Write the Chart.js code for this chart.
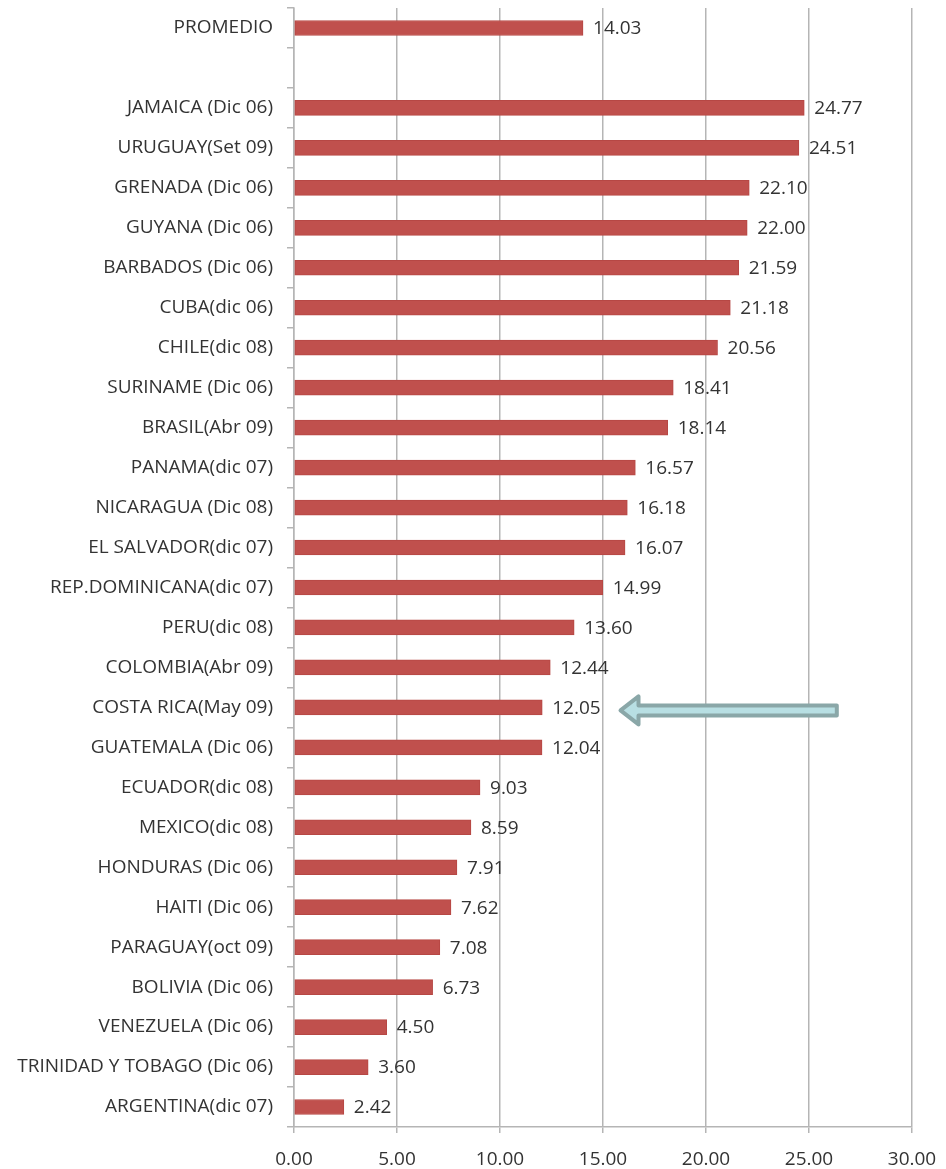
<!DOCTYPE html>
<html>
<head>
<meta charset="utf-8">
<script src="https://cdn.jsdelivr.net/npm/chart.js@4"></script>
<style>
  body { margin: 0; background: #fff; }
</style>
</head>
<body>
<canvas id="chart" width="946" height="1169"></canvas>
<script>
// categories top to bottom, one blank row under PROMEDIO
const countries = [
    'PROMEDIO', '',
    'JAMAICA (Dic 06)', 'URUGUAY(Set 09)', 'GRENADA (Dic 06)', 'GUYANA (Dic 06)',
    'BARBADOS (Dic 06)', 'CUBA(dic 06)', 'CHILE(dic 08)', 'SURINAME (Dic 06)',
    'BRASIL(Abr 09)', 'PANAMA(dic 07)', 'NICARAGUA (Dic 08)', 'EL SALVADOR(dic 07)',
    'REP.DOMINICANA(dic 07)', 'PERU(dic 08)', 'COLOMBIA(Abr 09)', 'COSTA RICA(May 09)',
    'GUATEMALA (Dic 06)', 'ECUADOR(dic 08)', 'MEXICO(dic 08)', 'HONDURAS (Dic 06)',
    'HAITI (Dic 06)', 'PARAGUAY(oct 09)', 'BOLIVIA (Dic 06)', 'VENEZUELA (Dic 06)',
    'TRINIDAD Y TOBAGO (Dic 06)', 'ARGENTINA(dic 07)'
];
const values = [
    14.03, null,
    24.77, 24.51, 22.10, 22.00,
    21.59, 21.18, 20.56, 18.41,
    18.14, 16.57, 16.18, 16.07,
    14.99, 13.60, 12.44, 12.05,
    12.04, 9.03, 8.59, 7.91,
    7.62, 7.08, 6.73, 4.50,
    3.60, 2.42
];
const xTicks = [0, 5, 10, 15, 20, 25, 30];

// arrow pointing at Costa Rica (in axis units)
const arrowRow = 'COSTA RICA(May 09)';
const arrowFrom = 26.35;
const arrowTo = 15.85;

const FONT = "'Open Sans', sans-serif";
const TEXT = '#333333';
const GRID = '#b5b5b5';

// value labels right of every bar
const barLabels = {
    id: 'barLabels',
    afterDatasetsDraw(chart) {
        const ctx = chart.ctx;
        const meta = chart.getDatasetMeta(0);
        ctx.save();
        ctx.font = '19px ' + FONT;
        ctx.fillStyle = TEXT;
        ctx.textBaseline = 'middle';
        meta.data.forEach((bar, i) => {
            if (values[i] === null) return;
            ctx.fillText(values[i].toFixed(2), bar.x + 10, bar.y + 1);
        });
        ctx.restore();
    }
};

const arrow = {
    id: 'arrow',
    afterDraw(chart) {
        const ctx = chart.ctx;
        const xs = chart.scales.x, ys = chart.scales.y;
        const y = ys.getPixelForValue(countries.indexOf(arrowRow)) + 3;
        const tip = xs.getPixelForValue(arrowTo);
        const tail = xs.getPixelForValue(arrowFrom);
        const head = 18, headH = 14, shaftH = 5;
        ctx.save();
        ctx.beginPath();
        ctx.moveTo(tip, y);
        ctx.lineTo(tip + head, y - headH);
        ctx.lineTo(tip + head, y - shaftH);
        ctx.lineTo(tail, y - shaftH);
        ctx.lineTo(tail, y + shaftH);
        ctx.lineTo(tip + head, y + shaftH);
        ctx.lineTo(tip + head, y + headH);
        ctx.closePath();
        ctx.fillStyle = '#b8dfe3';
        ctx.fill();
        ctx.lineJoin = 'round';
        ctx.lineWidth = 4;
        ctx.strokeStyle = '#8aa7a8';
        ctx.stroke();
        ctx.restore();
    }
};

// drop the automatic label padding so the plot box sits where the original does
function noPad(scale) {
    scale.paddingTop = 0;
    scale.paddingBottom = 0;
    scale.paddingLeft = 0;
    scale.paddingRight = 0;
}

new Chart(document.getElementById('chart'), {
    type: 'bar',
    data: {
        labels: countries,
        datasets: [{
            data: values,
            backgroundColor: '#c0504d',
            borderColor: '#b64744',
            borderWidth: 1,
            borderSkipped: false,
            barThickness: 15
        }]
    },
    options: {
        indexAxis: 'y',
        responsive: false,
        animation: false,
        layout: { padding: { top: 8, right: 34, left: 0, bottom: 0 } },
        plugins: { legend: { display: false }, tooltip: { enabled: false } },
        scales: {
            x: {
                min: 0,
                max: 30,
                afterBuildTicks(scale) { scale.ticks = xTicks.map(v => ({ value: v })); },
                afterFit(scale) { scale.height = 42; noPad(scale); },
                grid: { color: GRID, lineWidth: 1.5, tickLength: 6 },
                border: { color: GRID, width: 1.5 },
                ticks: {
                    color: TEXT,
                    padding: 15,
                    maxRotation: 0,
                    font: { family: FONT, size: 19 },
                    callback: v => v.toFixed(2)
                }
            },
            y: {
                afterFit(scale) { scale.width = 294; noPad(scale); },
                grid: { drawOnChartArea: false, color: GRID, lineWidth: 1.5, tickLength: 7 },
                border: { color: GRID, width: 1.5 },
                ticks: {
                    color: TEXT,
                    padding: 14,
                    autoSkip: false,
                    font: { family: FONT, size: 19 }
                }
            }
        }
    },
    plugins: [barLabels, arrow]
});
</script>
</body>
</html>
